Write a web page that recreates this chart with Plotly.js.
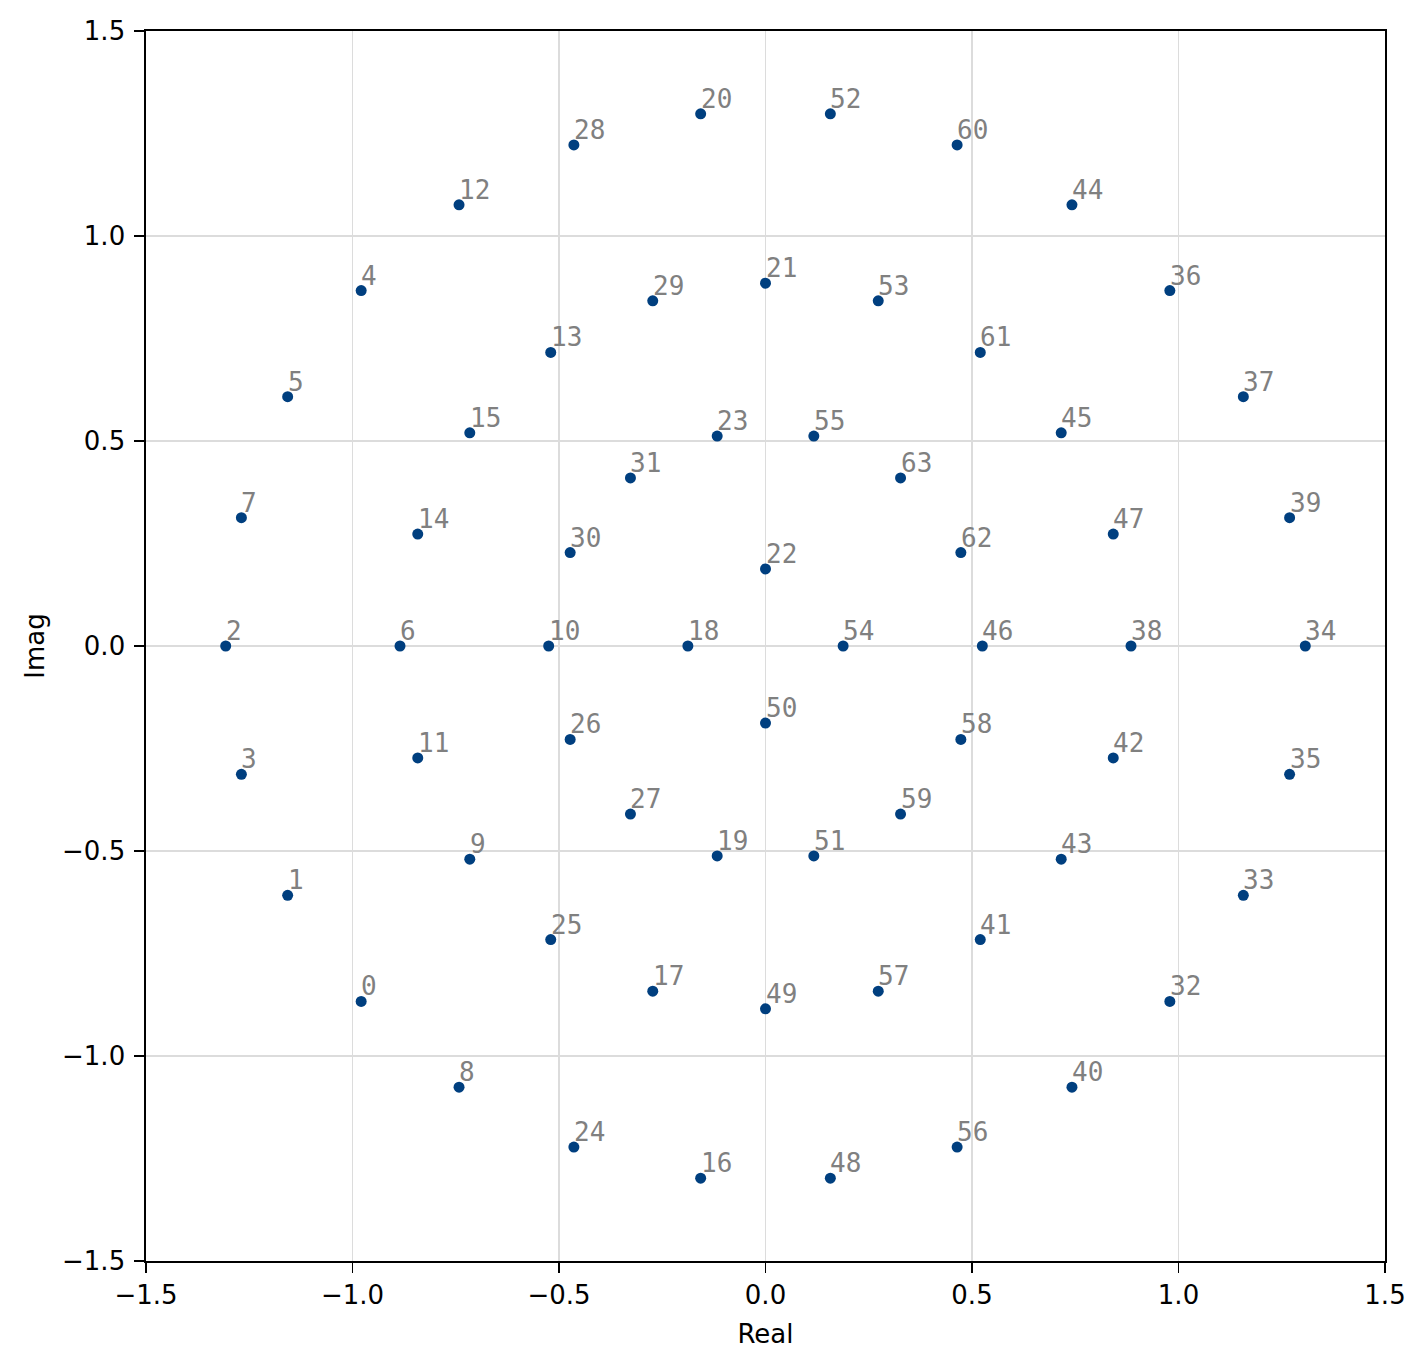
<!DOCTYPE html>
<html>
<head>
<meta charset="utf-8">
<script src="https://cdn.plot.ly/plotly-3.0.1.min.js"></script>
<style>html,body{margin:0;padding:0;background:#fff;}#chart{width:1428px;height:1369px;}</style>
</head>
<body>
<div id="chart"></div>
<script>
const labels = Array.from({length: 64}, (_, i) => String(i));
const realPart = [
  -0.979, -1.157, -1.307, -1.269, -0.979, -1.157, -0.885, -1.269,
  -0.742, -0.716, -0.525, -0.842, -0.742, -0.520, -0.842, -0.716,
  -0.157, -0.273, -0.188, -0.117, -0.157,  0.000,  0.000, -0.117,
  -0.464, -0.520, -0.473, -0.327, -0.464, -0.273, -0.473, -0.327,
   0.979,  1.157,  1.307,  1.269,  0.979,  1.157,  0.885,  1.269,
   0.742,  0.520,  0.842,  0.716,  0.742,  0.716,  0.525,  0.842,
   0.157,  0.000,  0.000,  0.117,  0.157,  0.273,  0.188,  0.117,
   0.464,  0.273,  0.473,  0.327,  0.464,  0.520,  0.473,  0.327
];
const imagPart = [
  -0.867, -0.608,  0.000, -0.313,  0.867,  0.608,  0.000,  0.313,
  -1.076, -0.520,  0.000, -0.273,  1.076,  0.716,  0.273,  0.520,
  -1.298, -0.842,  0.000, -0.512,  1.298,  0.885,  0.188,  0.512,
  -1.222, -0.716, -0.228, -0.410,  1.222,  0.842,  0.228,  0.410,
  -0.867, -0.608,  0.000, -0.313,  0.867,  0.608,  0.000,  0.313,
  -1.076, -0.716, -0.273, -0.520,  1.076,  0.520,  0.000,  0.273,
  -1.298, -0.885, -0.188, -0.512,  1.298,  0.842,  0.000,  0.512,
  -1.222, -0.842, -0.228, -0.410,  1.222,  0.716,  0.228,  0.410
];
</script>
<script>
const trace = {
  x: realPart, y: imagPart, mode: 'markers', type: 'scatter',
  marker: {color: '#003f7f', size: 11, line: {width: 0}},
  hoverinfo: 'skip', showlegend: false
};
const annotations = labels.map((t, i) => ({
  x: realPart[i], y: imagPart[i], xref: 'x', yref: 'y', text: t,
  showarrow: false, xanchor: 'left', yanchor: 'bottom',
  xshift: -1, yshift: -1, borderpad: 0,
  font: {family: 'DejaVu Sans Mono', size: 26, color: '#808080'}
}));
const axisCommon = {
  range: [-1.5, 1.5], dtick: 0.5, tick0: -1.5, tickformat: '.1f',
  showgrid: true, gridcolor: '#dcdcdc', gridwidth: 1.4, zeroline: false,
  showline: true, linecolor: '#000', linewidth: 1.6, mirror: true,
  ticks: 'outside', ticklen: 10, tickwidth: 1.6, tickcolor: '#000',
  tickfont: {family: 'DejaVu Sans', size: 26, color: '#000'}
};
const layout = {
  width: 1428, height: 1369,
  margin: {l: 146, r: 43, t: 31, b: 108, pad: 0},
  paper_bgcolor: '#fff', plot_bgcolor: '#fff',
  xaxis: Object.assign({}, axisCommon, {title: {text: 'Real', font: {family: 'DejaVu Sans', size: 26, color: '#000'}, standoff: 16}}),
  yaxis: Object.assign({}, axisCommon, {ticklabelstandoff: 4, title: {text: 'Imag', font: {family: 'DejaVu Sans', size: 26, color: '#000'}, standoff: 10}}),
  annotations: annotations
};
Plotly.newPlot('chart', [trace], layout, {displayModeBar: false, staticPlot: true});
</script>
</body>
</html>
